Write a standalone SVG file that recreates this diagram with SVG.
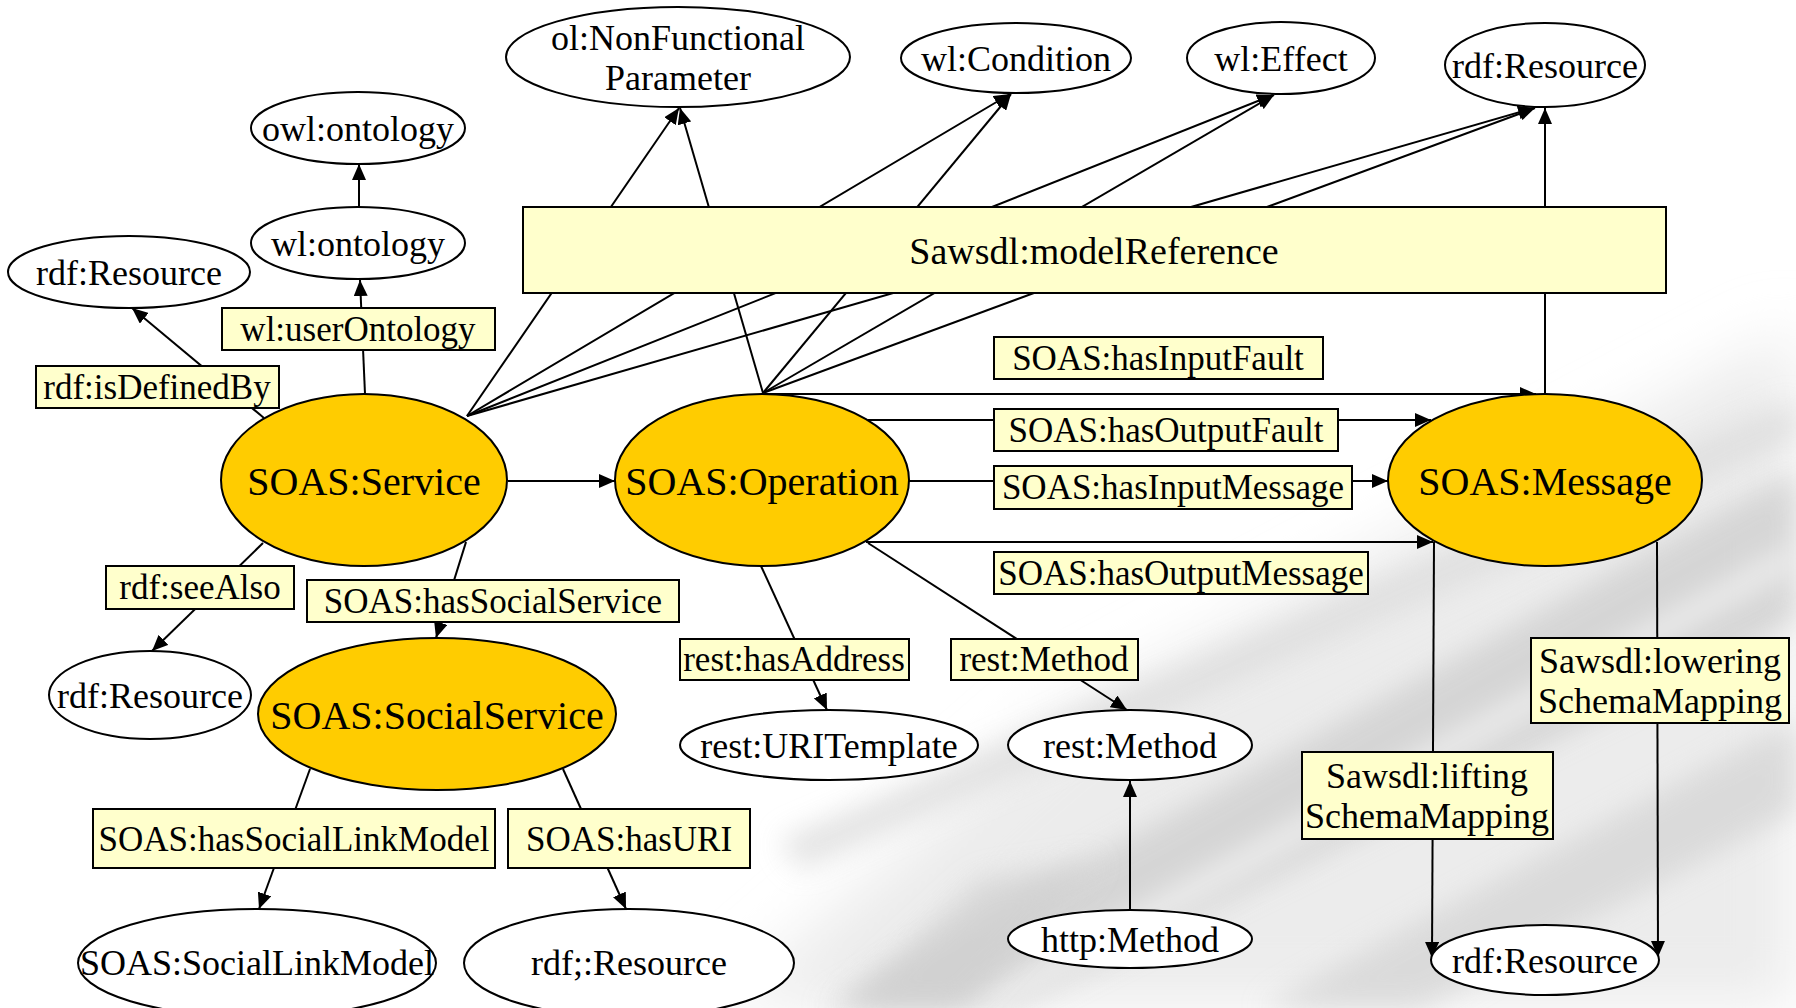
<svg xmlns="http://www.w3.org/2000/svg" width="1796" height="1008" viewBox="0 0 1796 1008">
  <defs>
    <marker id="arrow" markerUnits="userSpaceOnUse" markerWidth="16" markerHeight="14" viewBox="0 0 16 14" refX="16" refY="7" orient="auto">
      <path d="M0,0 L16,7 L0,14 Z" fill="#000"/>
    </marker>
    <filter id="soft" x="-20%" y="-20%" width="140%" height="140%">
      <feGaussianBlur stdDeviation="14"/>
    </filter>
    <filter id="softer" x="-20%" y="-20%" width="140%" height="140%">
      <feGaussianBlur stdDeviation="30"/>
    </filter>
    <style>
      text { font-family: "Liberation Serif", "Times New Roman", serif; fill: #000; text-anchor: middle; }
      .cls { fill: #ffcc00; stroke: #000; stroke-width: 2; }
      .res { fill: #fff; stroke: #000; stroke-width: 2; }
      .lbl { fill: #ffffcc; stroke: #000; stroke-width: 2; }
      .big { font-size: 40px; }
      .mid { font-size: 36px; }
      .sm { font-size: 35px; }
      .edge { fill: none; stroke: #000; stroke-width: 2; }
      .arr { marker-end: url(#arrow); }
    </style>
  </defs>

  <rect width="1796" height="1008" fill="#fff"/>

  <!-- faded pen photograph in the lower right -->
  <g id="backdrop">
    <polygon points="720,1008 1050,720 1796,330 1796,1008" fill="#ececec" filter="url(#softer)"/>
    <polygon points="820,1008 1796,470 1796,620 1010,1008" fill="#d2d2d2" opacity="0.85" filter="url(#soft)"/>
    <polygon points="960,1008 1796,545 1796,565 1000,1008" fill="#f4f4f4" filter="url(#soft)"/>
    <polygon points="1260,1008 1796,720 1796,810 1420,1008" fill="#d6d6d6" opacity="0.8" filter="url(#soft)"/>
    <polygon points="780,840 1796,400 1796,440 800,870" fill="#dddddd" opacity="0.8" filter="url(#soft)"/>
    <polygon points="840,1008 980,880 1100,860 960,1008" fill="#cfcfcf" opacity="0.7" filter="url(#soft)"/>
  </g>

  <!-- connectors -->
  <g id="edges">
    <path class="edge arr" d="M467,416 L679,108"/>
    <path class="edge arr" d="M763,393 L680,108"/>
    <path class="edge arr" d="M467,416 L1010,94"/>
    <path class="edge arr" d="M763,393 L1011,94"/>
    <path class="edge arr" d="M467,416 L1273,95"/>
    <path class="edge arr" d="M763,393 L1274,95"/>
    <path class="edge arr" d="M467,416 L1534,108"/>
    <path class="edge arr" d="M763,393 L1535,108"/>
    <path class="edge arr" d="M1545,394 L1545,108"/>

    <path class="edge arr" d="M508,481 L615,481"/>
    <path class="edge arr" d="M763,394 L1536,394"/>
    <path class="edge arr" d="M868,420 L1431,420"/>
    <path class="edge arr" d="M909,481 L1388,481"/>
    <path class="edge arr" d="M866,542 L1433,542"/>

    <path class="edge arr" d="M761,566 L827,710"/>
    <path class="edge arr" d="M868,543 L1127,710"/>
    <path class="edge arr" d="M1130,910 L1130,781"/>

    <path class="edge arr" d="M264,418 L132,308"/>
    <path class="edge arr" d="M365,394 L360,280"/>
    <path class="edge arr" d="M359,207 L359,164"/>
    <path class="edge arr" d="M263,543 L152,651"/>
    <path class="edge arr" d="M466,542 L436,638"/>
    <path class="edge arr" d="M310,769 L259,909"/>
    <path class="edge arr" d="M563,769 L626,909"/>

    <path class="edge arr" d="M1434,542 L1432,958"/>
    <path class="edge arr" d="M1657,542 L1658,957"/>
  </g>

  <!-- vocabulary nodes -->
  <g id="node-ol-nfp">
    <ellipse class="res" cx="678" cy="57" rx="172" ry="50"/>
    <text class="mid" x="678" y="50">ol:NonFunctional</text>
    <text class="mid" x="678" y="90">Parameter</text>
  </g>
  <g id="node-wl-condition">
    <ellipse class="res" cx="1016" cy="58" rx="115" ry="35"/>
    <text class="mid" x="1016" y="71">wl:Condition</text>
  </g>
  <g id="node-wl-effect">
    <ellipse class="res" cx="1281" cy="58" rx="94" ry="36"/>
    <text class="mid" x="1281" y="71">wl:Effect</text>
  </g>
  <g id="node-rdf-resource-top">
    <ellipse class="res" cx="1545" cy="65" rx="100" ry="42"/>
    <text class="mid" x="1545" y="78">rdf:Resource</text>
  </g>
  <g id="node-owl-ontology">
    <ellipse class="res" cx="358" cy="128" rx="107" ry="36"/>
    <text class="mid" x="358" y="141">owl:ontology</text>
  </g>
  <g id="node-wl-ontology">
    <ellipse class="res" cx="358" cy="243" rx="107" ry="36"/>
    <text class="mid" x="358" y="256">wl:ontology</text>
  </g>
  <g id="node-rdf-resource-left">
    <ellipse class="res" cx="129" cy="272" rx="121" ry="36"/>
    <text class="mid" x="129" y="285">rdf:Resource</text>
  </g>

  <g id="label-model-reference">
    <rect class="lbl" x="523" y="207" width="1143" height="86"/>
    <text x="1094" y="264" style="font-size:38px">Sawsdl:modelReference</text>
  </g>
  <g id="label-user-ontology">
    <rect class="lbl" x="222" y="308" width="273" height="42"/>
    <text class="sm" x="358" y="341">wl:userOntology</text>
  </g>
  <g id="label-is-defined-by">
    <rect class="lbl" x="36" y="366" width="243" height="42"/>
    <text class="sm" x="157" y="399">rdf:isDefinedBy</text>
  </g>

  <!-- core classes -->
  <g id="node-service">
    <ellipse class="cls" cx="364" cy="480" rx="143" ry="86"/>
    <text class="big" x="364" y="495">SOAS:Service</text>
  </g>
  <g id="node-operation">
    <ellipse class="cls" cx="762" cy="480" rx="147" ry="86"/>
    <text class="big" x="762" y="495">SOAS:Operation</text>
  </g>
  <g id="node-message">
    <ellipse class="cls" cx="1545" cy="480" rx="157" ry="86"/>
    <text class="big" x="1545" y="495">SOAS:Message</text>
  </g>

  <g id="label-has-input-fault">
    <rect class="lbl" x="994" y="337" width="329" height="42"/>
    <text class="sm" x="1158" y="370">SOAS:hasInputFault</text>
  </g>
  <g id="label-has-output-fault">
    <rect class="lbl" x="994" y="409" width="344" height="42"/>
    <text class="sm" x="1166" y="442">SOAS:hasOutputFault</text>
  </g>
  <g id="label-has-input-message">
    <rect class="lbl" x="994" y="466" width="358" height="43"/>
    <text class="sm" x="1173" y="499">SOAS:hasInputMessage</text>
  </g>
  <g id="label-has-output-message">
    <rect class="lbl" x="994" y="552" width="374" height="42"/>
    <text class="sm" x="1181" y="585">SOAS:hasOutputMessage</text>
  </g>

  <g id="label-see-also">
    <rect class="lbl" x="106" y="566" width="188" height="43"/>
    <text class="sm" x="200" y="599">rdf:seeAlso</text>
  </g>
  <g id="label-has-social-service">
    <rect class="lbl" x="307" y="580" width="372" height="42"/>
    <text class="sm" x="493" y="613">SOAS:hasSocialService</text>
  </g>
  <g id="node-rdf-resource-lower-left">
    <ellipse class="res" cx="150" cy="695" rx="101" ry="44"/>
    <text class="mid" x="150" y="708">rdf:Resource</text>
  </g>
  <g id="node-social-service">
    <ellipse class="cls" cx="437" cy="714" rx="179" ry="76"/>
    <text class="big" x="437" y="729">SOAS:SocialService</text>
  </g>

  <g id="label-has-address">
    <rect class="lbl" x="680" y="639" width="229" height="41"/>
    <text class="sm" x="794" y="671">rest:hasAddress</text>
  </g>
  <g id="label-rest-method">
    <rect class="lbl" x="951" y="639" width="187" height="41"/>
    <text class="sm" x="1044" y="671">rest:Method</text>
  </g>
  <g id="node-uri-template">
    <ellipse class="res" cx="829" cy="745" rx="149" ry="35"/>
    <text class="mid" x="829" y="758">rest:URITemplate</text>
  </g>
  <g id="node-rest-method">
    <ellipse class="res" cx="1130" cy="745" rx="122" ry="35"/>
    <text class="mid" x="1130" y="758">rest:Method</text>
  </g>
  <g id="node-http-method">
    <ellipse class="res" cx="1130" cy="939" rx="122" ry="29"/>
    <text class="mid" x="1130" y="952">http:Method</text>
  </g>

  <g id="label-has-social-link-model">
    <rect class="lbl" x="93" y="809" width="402" height="59"/>
    <text class="sm" x="294" y="851">SOAS:hasSocialLinkModel</text>
  </g>
  <g id="label-has-uri">
    <rect class="lbl" x="508" y="809" width="242" height="59"/>
    <text class="sm" x="629" y="851">SOAS:hasURI</text>
  </g>
  <g id="node-social-link-model">
    <ellipse class="res" cx="257" cy="963" rx="179" ry="54"/>
    <text class="mid" x="257" y="975">SOAS:SocialLinkModel</text>
  </g>
  <g id="node-rdf-resource-bottom">
    <ellipse class="res" cx="629" cy="963" rx="165" ry="54"/>
    <text class="mid" x="629" y="975">rdf;:Resource</text>
  </g>

  <g id="label-lifting">
    <rect class="lbl" x="1302" y="752" width="251" height="87"/>
    <text class="mid" x="1427" y="788">Sawsdl:lifting</text>
    <text class="mid" x="1427" y="828">SchemaMapping</text>
  </g>
  <g id="label-lowering">
    <rect class="lbl" x="1531" y="638" width="258" height="85"/>
    <text class="mid" x="1660" y="673">Sawsdl:lowering</text>
    <text class="mid" x="1660" y="713">SchemaMapping</text>
  </g>
  <g id="node-rdf-resource-right">
    <ellipse class="res" cx="1545" cy="960" rx="114" ry="35"/>
    <text class="mid" x="1545" y="973">rdf:Resource</text>
  </g>
</svg>
